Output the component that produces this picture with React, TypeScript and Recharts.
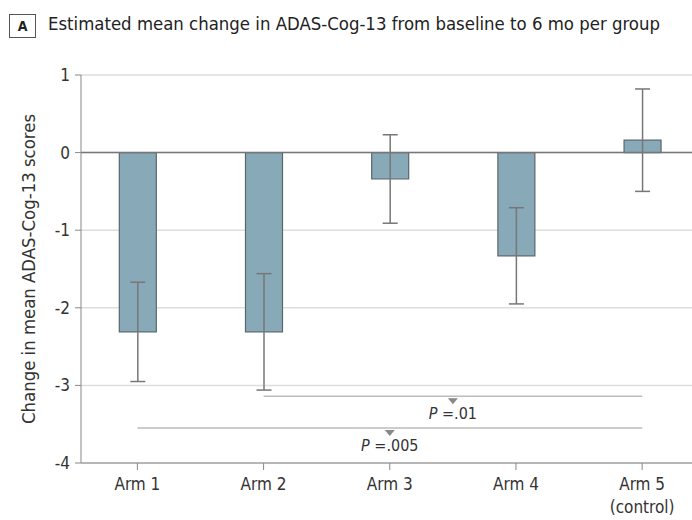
import React from 'react';
import {
  ComposedChart,
  Bar,
  XAxis,
  YAxis,
  CartesianGrid,
  ErrorBar,
  ReferenceLine,
  ReferenceDot,
} from 'recharts';

const FONT = '"Liberation Sans Narrow", "DejaVu Sans Condensed", "Roboto Condensed", Roboto, sans-serif';

const titleText = 'Estimated mean change in ADAS-Cog-13 from baseline to 6 mo per group';
const panelLetter = 'A';
const yAxisTitle = 'Change in mean ADAS-Cog-13 scores';

const armLabels = ['Arm 1', 'Arm 2', 'Arm 3', 'Arm 4', 'Arm 5\n(control)'];
const armPositions = [1, 2, 3, 4, 5];
const meanChange = [-2.31, -2.31, -0.34, -1.33, 0.16];
const ciHalfWidth = [0.64, 0.75, 0.57, 0.62, 0.66];
const yTicks = [-4, -3, -2, -1, 0, 1];

const compFrom = [2, 1];
const compTo = [5, 5];
const compY = [-3.14, -3.55];
const compP = ['.01', '.005'];

const data = armPositions.map((x, i) => ({
  x,
  arm: armLabels[i],
  value: meanChange[i],
  err: ciHalfWidth[i],
}));

const XTick = (props: any) => {
  const { x, y, payload } = props;
  const label = armLabels[armPositions.indexOf(payload.value)] || '';
  const lines = label.split('\n');
  return (
    <text x={x} y={y} textAnchor="middle" fill="#333" fontSize={17} fontFamily={FONT}>
      {lines.map((l, i) => (
        <tspan key={i} x={x} dy={i === 0 ? 18 : 23}>
          {l}
        </tspan>
      ))}
    </text>
  );
};

const makeMarker = (p: string) => (props: any) => {
  const { cx, cy } = props;
  return (
    <g>
      <polygon points={`${cx - 5},${cy + 2} ${cx + 5},${cy + 2} ${cx},${cy + 8}`} fill="#888" />
      <text x={cx} y={cy + 23} textAnchor="middle" fill="#333" fontSize={16} fontFamily={FONT}>
        <tspan fontStyle="italic">P</tspan>
        <tspan> ={p}</tspan>
      </text>
    </g>
  );
};

const YLabel = () => (
  <text
    x={30}
    y={269}
    transform="rotate(-90, 30, 269)"
    textAnchor="middle"
    dominantBaseline="middle"
    fill="#333"
    fontSize={17}
    fontFamily={FONT}
    textLength={310}
    lengthAdjust="spacingAndGlyphs"
  >
    {yAxisTitle}
  </text>
);

export default function App() {
  return (
    <div style={{ position: 'absolute', left: 0, top: 0, width: 692, height: 520, background: '#fff', fontFamily: FONT }}>
      <svg width={692} height={45} style={{ position: 'absolute', left: 0, top: 0 }}>
        <rect x={9.5} y={14.5} width={26} height={23} fill="#fff" stroke="#555" strokeWidth={1} />
        <text x={22.5} y={30.5} textAnchor="middle" fontSize={14} fontWeight="bold" fill="#222" fontFamily={FONT}>
          {panelLetter}
        </text>
        <text
          x={48}
          y={30}
          fontSize={18}
          fill="#222"
          fontFamily={FONT}
          textLength={612}
          lengthAdjust="spacingAndGlyphs"
        >
          {titleText}
        </text>
      </svg>
      <div style={{ position: 'absolute', left: 0, top: 0 }}>
        <ComposedChart
          width={692}
          height={520}
          data={data}
          margin={{ top: 75, right: 0, bottom: 7, left: 0 }}
        >
          <CartesianGrid vertical={false} stroke="#ddd" strokeWidth={1.5} />
          <XAxis
            dataKey="x"
            type="number"
            domain={[0.553, 5.395]}
            ticks={armPositions}
            allowDataOverflow
            height={50}
            tick={<XTick />}
            tickSize={7}
            tickLine={{ stroke: '#888' }}
            axisLine={{ stroke: '#888' }}
          />
          <YAxis
            type="number"
            domain={[-4, 1]}
            ticks={yTicks}
            width={81}
            tickSize={6}
            tickMargin={5}
            tick={{ fill: '#333', fontSize: 17, fontFamily: FONT }}
            tickLine={{ stroke: '#888' }}
            axisLine={{ stroke: '#888' }}
            label={<YLabel />}
          />
          <ReferenceLine y={0} stroke="#777" strokeWidth={1.5} />
          {compY.map((y, i) => (
            <ReferenceLine
              key={`l${i}`}
              segment={[
                { x: compFrom[i], y },
                { x: compTo[i], y },
              ]}
              stroke="#bbb"
              strokeWidth={1.5}
            />
          ))}
          {compY.map((y, i) => (
            <ReferenceDot
              key={`d${i}`}
              x={(compFrom[i] + compTo[i]) / 2}
              y={y}
              r={0}
              shape={makeMarker(compP[i])}
            />
          ))}
          <Bar
            dataKey="value"
            fill="#88a9b8"
            stroke="#59676d"
            strokeWidth={1.2}
            barSize={37}
            isAnimationActive={false}
          >
            <ErrorBar dataKey="err" width={7.5} stroke="#777" strokeWidth={1.5} direction="y" />
          </Bar>
        </ComposedChart>
      </div>
    </div>
  );
}
